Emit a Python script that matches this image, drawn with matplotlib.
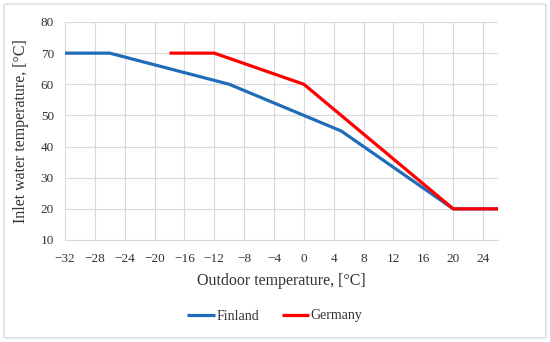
import matplotlib
matplotlib.use("Agg")
import matplotlib.pyplot as plt
from matplotlib.patches import FancyBboxPatch

finland_x = [-32, -26, -10, 5, 20, 26]
finland_y = [70, 70, 60, 45, 20, 20]
germany_x = [-18, -12, 0, 20, 26]
germany_y = [70, 70, 60, 20, 20]
x_ticks = list(range(-32, 25, 4))
y_ticks = list(range(10, 81, 10))

plt.rcParams['font.family'] = ['Liberation Serif', 'DejaVu Serif']
plt.rcParams['axes.unicode_minus'] = True

fig = plt.figure(figsize=(5.5, 3.42), dpi=100)
ax = fig.add_axes([65/550, 1 - 240/342, (498-65)/550, (240-22)/342])

ax.plot(finland_x, finland_y, color='#1F6DB8', lw=2.3, label='Finland', solid_capstyle='butt')
ax.plot(germany_x, germany_y, color='#FF0000', lw=2.3, label='Germany', solid_capstyle='butt')

ax.set_xlim(-32, 26)
ax.set_ylim(10, 80)
ax.set_xticks(x_ticks)
ax.set_yticks(y_ticks)
ax.set_xticklabels([str(v).replace('-', '\u2212') for v in x_ticks])
ax.grid(True, color='#D9D9D9', lw=0.8)
ax.set_axisbelow(True)
for s in ['top', 'right', 'left']:
    ax.spines[s].set_visible(False)
ax.spines['bottom'].set_color('#D9D9D9')
ax.tick_params(length=0, labelsize=9.5, colors='#333333', pad=9)
ax.tick_params(axis='y', pad=8)
ax.set_xlabel('Outdoor temperature, [°C]', fontsize=11.5, color='#333333', labelpad=6)
ax.set_ylabel('Inlet water temperature, [°C]', fontsize=11.5, color='#333333', labelpad=8)

leg = fig.legend(loc='center', bbox_to_anchor=(0.5, 1 - 316/342), ncol=2, frameon=False,
                 fontsize=10, handlelength=2.0, handletextpad=0.1, columnspacing=1.6)
for t in leg.get_texts():
    t.set_color('#333333')

border = FancyBboxPatch((4/550, 4/342), 542/550, 334/342, boxstyle='round,pad=0,rounding_size=0.005',
                        transform=fig.transFigure, fill=False, edgecolor='#D9D9D9', lw=1)
fig.patches.append(border)

fig.savefig('out.png', dpi=100)
